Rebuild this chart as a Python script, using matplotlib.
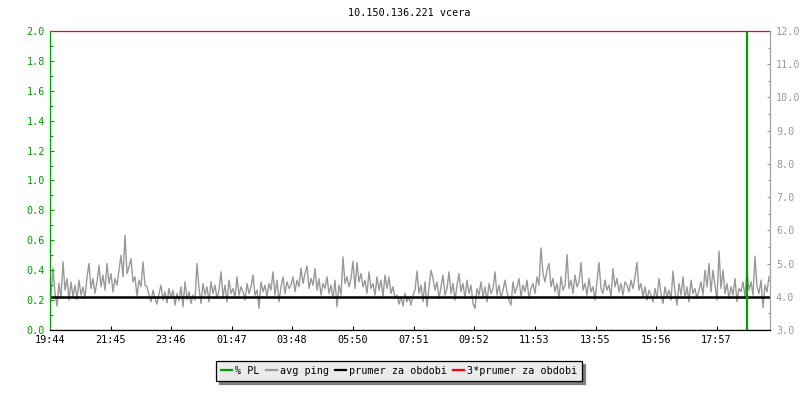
import numpy as np
import matplotlib
matplotlib.use('Agg')
import matplotlib.pyplot as plt
from matplotlib.lines import Line2D
from matplotlib.ticker import MultipleLocator, FormatStrFormatter

plt.rcParams['font.family'] = ['DejaVu Sans Mono']
plt.rcParams['font.size'] = 7.3

title = '10.150.136.221 vcera'
tick_minutes = [0, 121, 242, 363, 484, 606, 727, 848, 969, 1091, 1212, 1333]
tick_labels = ['19:44', '21:45', '23:46', '01:47', '03:48', '05:50',
               '07:51', '09:52', '11:53', '13:55', '15:56', '17:57']

# avg ping [ms], one sample every 4 minutes, 19:44 -> 19:44
sample_minutes = 4
avg_ping = [
    4.05, 4.85, 4.10, 3.72, 4.40, 3.95, 5.05, 4.20, 4.55, 3.90, 4.45, 4.00,
    4.35, 3.92, 4.50, 4.05, 4.30, 3.95, 4.60, 5.00, 4.25, 4.55, 4.10, 4.45,
    4.95, 4.30, 4.65, 4.20, 5.00, 4.40, 4.70, 4.15, 4.55, 4.35, 4.80, 5.25,
    4.60, 5.85, 4.70, 4.90, 5.15, 4.45, 4.60, 4.02, 4.50, 4.30, 5.05, 4.35,
    4.30, 4.05, 3.85, 4.20, 3.95, 3.78, 4.10, 4.35, 3.90, 4.15, 3.82, 4.25,
    3.95, 4.20, 3.75, 4.10, 3.88, 4.30, 3.70, 4.45, 3.92, 4.15, 3.80, 4.05,
    3.90, 5.00, 4.25, 3.80, 4.40, 4.05, 4.30, 3.85, 4.45, 4.10, 4.35, 3.95,
    4.20, 4.75, 4.00, 4.35, 3.85, 4.50, 4.10, 4.25, 3.95, 4.60, 4.05, 4.30,
    4.15, 3.90, 4.40, 4.10, 4.30, 4.65, 4.05, 4.20, 3.65, 4.45, 4.15, 4.35,
    4.00, 4.40, 4.20, 4.75, 4.05, 4.50, 3.85, 4.30, 4.60, 4.10, 4.45, 4.25,
    4.35, 4.60, 4.15, 4.50, 4.30, 4.87, 4.40, 4.70, 4.93, 4.25, 4.55, 4.35,
    4.85, 4.20, 4.55, 4.05, 4.40, 4.25, 4.60, 4.10, 4.35, 3.95, 4.50, 3.70,
    4.35, 4.05, 5.20, 4.40, 4.60, 4.30, 4.55, 5.07, 4.25, 5.03, 4.45, 4.70,
    4.30, 4.50, 4.10, 4.75, 4.25, 4.40, 4.05, 4.60, 4.20, 4.50, 4.00, 4.65,
    4.25, 4.60, 4.10, 4.30, 3.95, 4.05, 3.78, 4.00, 3.72, 4.10, 3.85, 4.00,
    3.75, 4.05, 4.20, 4.77, 4.10, 4.35, 3.85, 4.45, 3.70, 4.30, 4.80, 4.55,
    4.20, 4.45, 3.95, 4.30, 4.65, 4.05, 4.25, 4.75, 4.10, 4.40, 3.90, 4.35,
    4.70, 4.15, 4.40, 3.95, 4.50, 4.10, 4.35, 3.80, 3.65, 4.25, 4.05, 4.45,
    4.00, 4.30, 3.85, 4.40, 4.10, 4.25, 4.75, 4.05, 4.35, 3.95, 4.20, 4.50,
    4.15, 3.90, 3.75, 4.45, 4.10, 4.30, 4.55, 4.00, 4.35, 4.15, 4.50, 3.95,
    4.25, 4.40, 4.10, 4.60, 4.35, 5.47, 4.70, 4.45, 4.80, 5.00, 4.30, 4.55,
    4.15, 4.40, 3.95, 4.60, 4.20, 4.35, 5.27, 4.25, 4.50, 4.10, 4.65, 4.30,
    4.45, 5.03, 4.20, 4.40, 4.05, 4.55, 4.15, 4.30, 3.90, 4.45, 5.03, 4.25,
    4.10, 4.50, 4.20, 4.35, 4.00, 4.85, 4.30, 4.55, 4.15, 4.40, 4.05, 4.45,
    4.35, 4.15, 4.50, 4.25, 4.60, 5.03, 4.20, 4.40, 4.00, 4.30, 3.90, 4.20,
    4.05, 3.85, 4.25, 3.95, 4.55, 4.10, 3.80, 4.30, 4.00, 4.20, 3.90, 4.77,
    4.15, 3.75, 4.40, 4.05, 4.60, 3.95, 4.30, 3.85, 4.50, 4.10, 4.25, 3.95,
    4.20, 4.45, 4.05, 4.80, 4.30, 5.00, 4.15, 4.80, 4.35, 3.90, 5.37, 4.25,
    4.80, 4.10, 4.40, 3.95, 4.30, 4.05, 4.55, 3.85, 4.25, 4.15, 4.45, 4.00,
    4.75, 4.20, 4.45, 4.05, 5.22, 4.30, 4.10, 4.50, 3.68, 4.35, 4.15, 4.60,
]
prumer = 4.0

# packet loss [%]
pl_edges = [0, 1391, 1392, 1393, 1440]
pl_values = [0.0, 1.0, 2.0, 0.0]

green = '#00a000'
grey = '#999999'

fig = plt.figure(figsize=(8, 4), dpi=100)
ax = fig.add_axes([0.0625, 0.175, 0.9, 0.7475])
ax2 = ax.twinx()
ax.set_zorder(ax2.get_zorder() + 1)
ax.patch.set_visible(False)

t = np.arange(len(avg_ping)) * sample_minutes + sample_minutes / 2
ax2.plot(t, avg_ping, color=grey, lw=1.0)
ax2.axhline(prumer, color='black', lw=1.8)
ax2.axhline(3 * prumer, color='red', lw=0.9, clip_on=False)
ax.stairs(pl_values, pl_edges, baseline=None, color=green, lw=0.9)

ax.set_xlim(0, 1440)
ax.set_ylim(0, 2)
ax2.set_ylim(3, 12)

ax.set_xticks(tick_minutes)
ax.set_xticklabels(tick_labels)
ax.yaxis.set_major_locator(MultipleLocator(0.2))
ax.yaxis.set_minor_locator(MultipleLocator(0.1))
ax.yaxis.set_major_formatter(FormatStrFormatter('%.1f'))
ax2.yaxis.set_major_locator(MultipleLocator(1))
ax2.yaxis.set_minor_locator(MultipleLocator(0.5))
ax2.yaxis.set_major_formatter(FormatStrFormatter('%.1f'))

ax.grid(axis='y', color='#c0c0c0', lw=0.72)
for tick in ax.yaxis.get_major_ticks():
    if abs(tick.get_loc()) < 1e-6 or abs(tick.get_loc() - 2) < 1e-6:
        tick.gridline.set_visible(False)

ax.tick_params(axis='y', which='both', direction='in', colors=green, width=0.72, pad=3.6)
ax.tick_params(axis='y', which='major', length=3)
ax.tick_params(axis='y', which='minor', length=2.2)
ax.tick_params(axis='x', direction='in', length=3, width=0.72, pad=3.8, colors='black')
ax2.tick_params(axis='y', which='both', direction='in', colors=grey, width=0.72, pad=4.3)
ax2.tick_params(axis='y', which='major', length=2.5)
ax2.tick_params(axis='y', which='minor', length=1.8)

for s in ['top', 'right']:
    ax.spines[s].set_visible(False)
ax.spines['left'].set_color(green)
ax.spines['bottom'].set_color('black')
for s in ['top', 'left', 'bottom']:
    ax2.spines[s].set_visible(False)
ax2.spines['right'].set_color('#a0a0a0')
for sp in list(ax.spines.values()) + list(ax2.spines.values()):
    sp.set_linewidth(0.9)

fig.text(0.512, 0.967, title, ha='center', va='center')

handles = [Line2D([], [], color=green, lw=1.6),
           Line2D([], [], color=grey, lw=1.6),
           Line2D([], [], color='black', lw=1.6),
           Line2D([], [], color='red', lw=1.6)]
labels = ['% PL', 'avg ping', 'prumer za obdobi', '3*prumer za obdobi']
leg = fig.legend(handles, labels, loc='center', bbox_to_anchor=(0.499, 0.0725),
                 ncol=4, fancybox=False, framealpha=1, edgecolor='black',
                 facecolor='#ebebeb', handlelength=1.1, handletextpad=0.3,
                 columnspacing=0.6, borderpad=0.45,
                 shadow={'ox': 2.2, 'oy': -2.2, 'color': '#7f7f7f', 'alpha': 1})
leg.get_frame().set_linewidth(0.9)

fig.savefig('out.png', dpi=100)
